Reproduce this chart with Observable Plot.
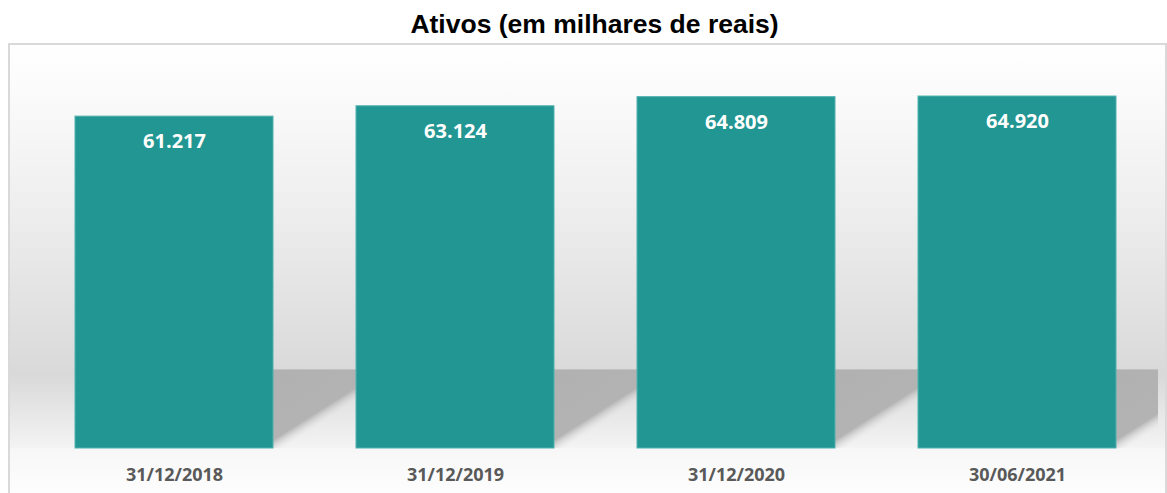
<!DOCTYPE html>
<html>
<head>
<meta charset="utf-8">
<script src="https://cdn.jsdelivr.net/npm/d3@7"></script>
<script src="https://cdn.jsdelivr.net/npm/@observablehq/plot@0.6"></script>
<style>
  html, body { margin: 0; padding: 0; background: #fff; }
  #page { position: relative; width: 1167px; height: 493px; overflow: hidden; }
  #title { position: absolute; left: 0; top: 0; width: 1167px; box-sizing: border-box; padding-left: 22px; padding-top: 11px;
           text-align: center; font-family: "Liberation Sans", Arial, sans-serif; font-weight: bold; font-size: 26.5px; line-height: 26px; color: #000; }
  #frame { position: absolute; left: 8px; top: 43px; width: 1155px; height: 480px; border: 2px solid #d9d9d9;
           background: linear-gradient(to bottom, #ffffff 0px, #f8f8f8 75px, #efefef 155px, #e5e5e5 235px, #dbdbdb 315px, #d9d9d9 330px, #f3f3f3 402px, #f7f7f7 404px, #fdfdfd 448px); }
  #chart { position: absolute; left: 0; top: 43px; width: 1158px; height: 450px; overflow: hidden; }
  #chart svg { max-width: none !important; }
</style>
</head>
<body>
<svg width="0" height="0" style="position:absolute">
  <defs>
    <linearGradient id="shadowGrad" x1="0" y1="0" x2="0.67" y2="1">
      <stop offset="0" stop-color="#b1b1b1" stop-opacity="1"></stop>
      <stop offset="0.62" stop-color="#b3b3b3" stop-opacity="1"></stop>
      <stop offset="0.75" stop-color="#e6e6e6" stop-opacity="0"></stop>
      <stop offset="1" stop-color="#eeeeee" stop-opacity="0"></stop>
    </linearGradient>
  </defs>
</svg>
<div id="page">
  <div id="frame"></div>
  <div id="title">Ativos (em milhares de reais)</div>
  <div id="chart"></div>
</div>
<script>
const categories = ["31/12/2018", "31/12/2019", "31/12/2020", "30/06/2021"];
const values = [61217, 63124, 64809, 64920];

const data = categories.map((c, i) => ({date: c, value: values[i]}));
const fmt = d3.formatLocale({decimal: ",", thousands: ".", grouping: [3], currency: ["R$", ""]}).format(",d");

const chart = Plot.plot({
  width: 1167,
  height: 450,
  marginTop: 25.5,
  marginBottom: 45,
  marginLeft: 33.5,
  marginRight: 9.5,
  style: {fontFamily: "'Open Sans', sans-serif", fontSize: "18px", fontWeight: "bold", color: "#595959", background: "transparent", overflow: "visible", maxWidth: "none"},
  x: {domain: categories, paddingInner: 0.295, paddingOuter: 0.1475, label: null, tickSize: 0, tickPadding: 20},
  y: {domain: [0, 70000], axis: null},
  marks: [
    Plot.barY(data, {x: "date", y1: () => 0, y2: () => 14500, dx: 198, insetRight: 115, fill: "url(#shadowGrad)", ariaLabel: "shadow"}),
    Plot.barY(data, {x: "date", y: "value", fill: "#229692", stroke: "#52b1ad", strokeWidth: 1}),
    Plot.text(data, {x: "date", y: "value", text: d => fmt(d.value), dy: 25, fill: "white", fontSize: 20, fontWeight: "bold"})
  ]
});
d3.select(chart).select('g[aria-label="shadow"]').style("filter", "blur(2px)");
document.getElementById("chart").appendChild(chart);
</script>
</body>
</html>
